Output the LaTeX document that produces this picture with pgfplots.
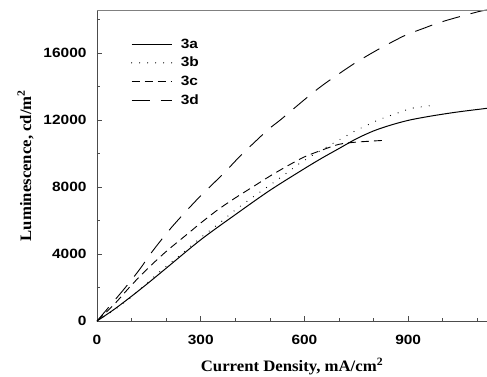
\documentclass[border=0pt]{standalone}
\usepackage{fontspec}
\setmainfont{Liberation Serif}
\setsansfont{Liberation Sans}
\newfontfamily\tickfont[FakeStretch=1.15, BoldFeatures={FakeStretch=1.15}]{Liberation Sans}
\newfontfamily\labelfont[FakeStretch=1.05, BoldFeatures={FakeStretch=1.05}]{Liberation Serif}
\usepackage{pgfplots}
\pgfplotsset{compat=1.18}
\begin{document}
\begin{tikzpicture}
\begin{axis}[
  at={(0,0)}, anchor=south west,
  scale only axis, width=390bp, height=311bp,
  xmin=0, xmax=1128, ymin=0, ymax=18570,
  axis lines*=left,
  axis line style={line width=0.8pt, black!70},
  tick align=inside,
  xtick={0,300,600,900}, minor xtick={100,200,400,500,700,800,1000,1100},
  ytick={0,4000,8000,12000,16000}, minor ytick={2000,6000,10000,14000,18000},
  major tick length=5bp, minor tick length=3bp,
  tick style={line width=0.7pt, black!70},
  scaled ticks=false,
  /pgf/number format/assume math mode=true,
  /pgf/number format/set thousands separator={},
  ticklabel style={font=\fontsize{13.5}{13.5}\selectfont\tickfont\bfseries},
  xticklabel style={yshift=-11bp},
  yticklabel style={xshift=-7bp},
  xlabel={Current Density, mA/cm\textsuperscript{2}},
  ylabel={Luminescence, cd/m\textsuperscript{2}},
  label style={font=\fontsize{16}{16}\selectfont\labelfont\bfseries},
  xlabel style={yshift=-6bp},
  ylabel style={yshift=3bp},
  legend cell align=left,
  legend style={draw=none, fill=none, at={(axis cs:98,16950)}, anchor=north west,
    font=\fontsize{13.5}{13.5}\selectfont\tickfont\bfseries, row sep=4.5bp,
    inner sep=0pt, nodes={inner sep=1.5bp}},
  legend image code/.code={\draw[#1] (0bp,0bp) -- (40bp,0bp); \path (47bp,0bp);},
]
% 3a solid
\addplot[black, line width=1pt, smooth] coordinates {
(0,0) (50,700) (100,1480) (150,2300) (200,3150) (300,4850) (400,6350) (500,7800)
(600,9100) (650,9720) (700,10300) (750,10880) (800,11350) (850,11700) (900,11980)
(950,12180) (1000,12350) (1050,12500) (1128,12700)};
\addlegendentry{3a}
% 3b dotted
\addplot[black, line width=1.2pt, line cap=round, dash pattern=on 0pt off 8bp] coordinates {
(0,0) (50,650) (95,1355) (144,2250) (187,3045) (235,3840) (303,5033) (351,5791)
(397,6585) (443,7284) (491,7980) (537,8657) (582,9355) (629,9970) (679,10567)
(747,11360) (817,12040) (908,12700) (978,12900)};
\addlegendentry{3b}
% 3c dashed (middle)
\addplot[black, line width=0.9pt, dash pattern=on 8bp off 5bp, smooth] coordinates {
(0,0) (50,1000) (100,2150) (150,3200) (200,4150) (250,5000) (300,5850) (350,6650)
(400,7350) (450,8000) (500,8650) (550,9250) (600,9800) (650,10200) (700,10550)
(750,10680) (825,10780)};
\addlegendentry{3c}
% 3d long dash (upper)
\addplot[black, line width=0.9pt, dash pattern=on 18bp off 11bp, smooth] coordinates {
(0,0) (76,1850) (124,3100) (158,4100) (216,5600) (288,7224) (337,8220) (375,9000)
(414,9850) (457,10700) (496,11450) (530,12000) (578,12836) (616,13490) (660,14190)
(737,15280) (780,15820) (819,16280) (857,16700) (896,17100) (944,17470) (983,17770)
(1031,18070) (1103,18470) (1128,18570)};
\addlegendentry{3d}
\draw[black!50, line width=0.8pt] (axis description cs:0,1) -- (axis description cs:1,1);
\end{axis}
\pgfresetboundingbox
\path[use as bounding box] (-97bp,-56bp) rectangle (390bp,321bp);
\end{tikzpicture}
\end{document}
